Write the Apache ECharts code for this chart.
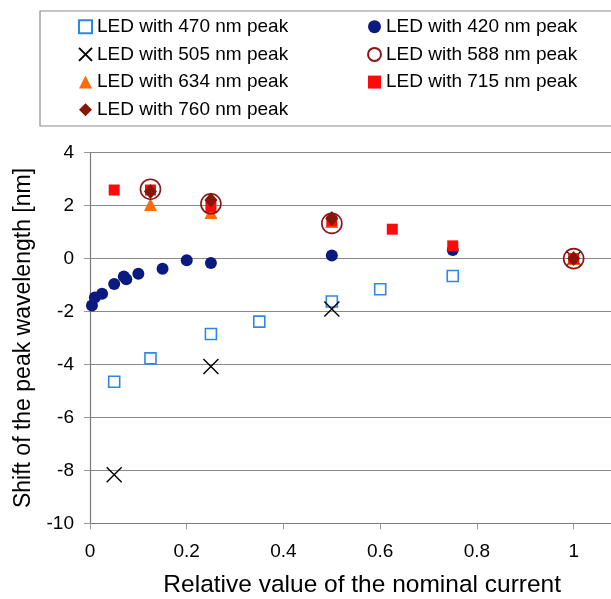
<!DOCTYPE html>
<html lang="en">
<head>
    <meta charset="UTF-8">
    <title>Peak wavelength shift</title>
    <script src="https://cdn.jsdelivr.net/npm/echarts@6/dist/echarts.min.js"></script>
    <style>
        html, body { margin: 0; padding: 0; background: #fff; }
        #chart1 { width: 611px; height: 599px; }
    </style>
</head>
<body>
<div id="chart1"></div>

<script type="text/javascript">
    // relative current (x) and peak shift in nm (y), per LED
    var x470 = [0.05, 0.125, 0.25, 0.35, 0.5, 0.6, 0.75];
    var y470 = [-4.65, -3.77, -2.85, -2.38, -1.62, -1.16, -0.66];

    var x420 = [0.004, 0.01, 0.025, 0.05, 0.07, 0.075, 0.1, 0.15, 0.2, 0.25, 0.5, 0.75];
    var y420 = [-1.77, -1.47, -1.33, -0.96, -0.68, -0.78, -0.57, -0.38, -0.06, -0.17, 0.12, 0.32];

    var x505 = [0.05, 0.25, 0.5, 1];
    var y505 = [-8.17, -4.08, -1.9, 0];

    var x588 = [0.125, 0.25, 0.5, 1];
    var y588 = [2.62, 2.07, 1.33, 0];

    var x634 = [0.125, 0.25, 0.5, 1];
    var y634 = [2.04, 1.74, 1.4, 0];

    var x715 = [0.05, 0.125, 0.25, 0.5, 0.625, 0.75, 1];
    var y715 = [2.59, 2.59, 1.96, 1.42, 1.11, 0.48, 0];

    var x760 = [0.125, 0.25, 0.5, 1];
    var y760 = [2.53, 2.21, 1.51, 0];

    var xTicks = [0, 0.2, 0.4, 0.6, 0.8, 1];

    function pairs(xs, ys) {
        return xs.map(function (x, i) { return [x, ys[i]]; });
    }

    var font = "'Liberation Sans', Arial, sans-serif";
    var crossPath = 'path://M0,0L10,10M10,0L0,10';

    var myChart1 = echarts.init(document.getElementById('chart1'), null, {renderer: 'canvas'});

    var legendCommon = {
        orient: 'vertical',
        top: 16.7,
        padding: 0,
        itemWidth: 13,
        itemHeight: 13,
        itemGap: 7.7,
        selectedMode: false,
        textStyle: {fontFamily: font, fontSize: 19, lineHeight: 20, color: '#000'}
    };

    myChart1.setOption({
        animation: false,
        backgroundColor: '#fff',
        textStyle: {fontFamily: font},
        legend: [
            Object.assign({}, legendCommon, {
                left: 76.5,
                data: ['LED with 470 nm peak', 'LED with 505 nm peak', 'LED with 634 nm peak', 'LED with 760 nm peak']
            }),
            Object.assign({}, legendCommon, {
                left: 365.5,
                data: ['LED with 420 nm peak', 'LED with 588 nm peak', 'LED with 715 nm peak']
            })
        ],
        graphic: [{
            type: 'rect',
            shape: {x: 40, y: 11, width: 640, height: 115},
            style: {fill: 'none', stroke: '#8c8c8c', lineWidth: 1.2},
            silent: true
        }],
        // plot runs past the right edge of the picture, as in the original crop
        grid: {left: 90, top: 152.7, height: 370.6, width: 580.4, outerBoundsMode: 'none', containLabel: false},
        xAxis: {
            type: 'value',
            min: 0,
            max: 1.2,
            interval: 0.2,
            name: 'Relative value of the nominal current',
            nameLocation: 'middle',
            nameGap: 49,
            nameTextStyle: {fontFamily: font, fontSize: 24.5, color: '#000', padding: [0, 36, 0, 0]},
            axisLine: {onZero: false, lineStyle: {color: '#7a7a7a', width: 1.2}},
            axisTick: {show: true, length: 6, inside: false, lineStyle: {color: '#9a9a9a'}},
            axisLabel: {
                fontFamily: font, fontSize: 19, color: '#000', margin: 19,
                formatter: function (v) {
                    var r = Math.round(v * 10) / 10;
                    return xTicks.indexOf(r) >= 0 ? String(r) : '';
                }
            },
            splitLine: {show: false}
        },
        yAxis: {
            type: 'value',
            min: -10,
            max: 4,
            interval: 2,
            name: 'Shift of the peak wavelength [nm]',
            nameLocation: 'middle',
            nameRotate: 90,
            nameGap: 48,
            nameTextStyle: {fontFamily: font, fontSize: 23, color: '#000'},
            axisLine: {show: true, onZero: false, lineStyle: {color: '#7a7a7a', width: 1.2}},
            axisTick: {show: true, length: 6, lineStyle: {color: '#9a9a9a'}},
            axisLabel: {fontFamily: font, fontSize: 19, color: '#000', margin: 16},
            splitLine: {show: true, lineStyle: {color: '#8a8a8a', width: 1.1}}
        },
        series: [
            {
                name: 'LED with 470 nm peak', type: 'scatter', z: 2,
                symbol: 'rect', symbolSize: 11,
                itemStyle: {color: '#fff', borderColor: '#2f86ea', borderWidth: 1.6, opacity: 1},
                data: pairs(x470, y470)
            },
            {
                name: 'LED with 420 nm peak', type: 'scatter', z: 3,
                symbol: 'circle', symbolSize: 12,
                itemStyle: {color: '#0b1a80', opacity: 1},
                data: pairs(x420, y420)
            },
            {
                name: 'LED with 505 nm peak', type: 'scatter', z: 4,
                symbol: crossPath, symbolSize: 15,
                itemStyle: {color: 'none', borderColor: '#000', borderWidth: 1.4, opacity: 1},
                data: pairs(x505, y505)
            },
            {
                name: 'LED with 588 nm peak', type: 'scatter', z: 7,
                symbol: 'circle', symbolSize: 20,
                itemStyle: {color: 'none', borderColor: '#8b1414', borderWidth: 1.6, opacity: 1},
                data: pairs(x588, y588)
            },
            {
                name: 'LED with 634 nm peak', type: 'scatter', z: 5,
                symbol: 'triangle', symbolSize: 13,
                itemStyle: {color: '#ff6a0a', opacity: 1},
                data: pairs(x634, y634)
            },
            {
                name: 'LED with 715 nm peak', type: 'scatter', z: 6,
                symbol: 'rect', symbolSize: 11,
                itemStyle: {color: '#ff0a0a', opacity: 1},
                data: pairs(x715, y715)
            },
            {
                name: 'LED with 760 nm peak', type: 'scatter', z: 8,
                symbol: 'diamond', symbolSize: [13, 15],
                itemStyle: {color: '#861608', opacity: 1},
                data: pairs(x760, y760)
            }
        ]
    });
</script>
</body>
</html>
